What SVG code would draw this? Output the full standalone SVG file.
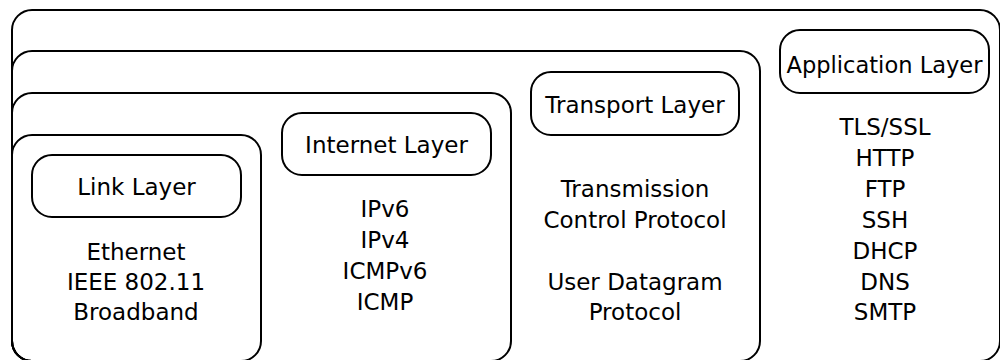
<svg xmlns="http://www.w3.org/2000/svg" width="1000" height="360" viewBox="0 0 1000 360">
  <style>
    .frame { fill: none; stroke: #000; stroke-width: 2; }
    .label { fill: #fff; stroke: #000; stroke-width: 2; }
    text { font-family: "DejaVu Sans", "Liberation Sans", sans-serif; font-size: 23px; fill: #000; text-anchor: middle; }
  </style>
  <rect width="1000" height="360" fill="#fff"/>
  <g id="application-layer">
    <rect class="frame" x="12" y="10" width="988" height="351" rx="20"/>
    <rect class="label" x="780" y="30" width="209" height="63" rx="20"/>
    <text x="884.5" y="73" textLength="196" lengthAdjust="spacingAndGlyphs">Application Layer</text>
    <text x="885" y="135">TLS/SSL</text>
    <text x="885" y="166">HTTP</text>
    <text x="885" y="197">FTP</text>
    <text x="885" y="228">SSH</text>
    <text x="885" y="259">DHCP</text>
    <text x="885" y="290">DNS</text>
    <text x="885" y="320">SMTP</text>
  </g>
  <g id="transport-layer">
    <rect class="frame" x="12" y="51" width="748" height="310" rx="20"/>
    <rect class="label" x="531" y="72" width="208" height="63" rx="20"/>
    <text x="635" y="113">Transport Layer</text>
    <text x="635" y="197">Transmission</text>
    <text x="635" y="228">Control Protocol</text>
    <text x="635" y="290">User Datagram</text>
    <text x="635" y="320">Protocol</text>
  </g>
  <g id="internet-layer">
    <rect class="frame" x="12" y="93" width="499" height="268" rx="20"/>
    <rect class="label" x="282" y="113" width="209" height="62" rx="20"/>
    <text x="386.5" y="153">Internet Layer</text>
    <text x="385" y="217">IPv6</text>
    <text x="385" y="248">IPv4</text>
    <text x="385" y="279">ICMPv6</text>
    <text x="385" y="310">ICMP</text>
  </g>
  <g id="link-layer">
    <rect class="frame" x="12" y="135" width="249" height="226" rx="20"/>
    <rect class="label" x="32" y="155" width="209" height="62" rx="20"/>
    <text x="136.5" y="195">Link Layer</text>
    <text x="136" y="260">Ethernet</text>
    <text x="136" y="290">IEEE 802.11</text>
    <text x="136" y="320">Broadband</text>
  </g>
  <g id="connectors"/>
</svg>
